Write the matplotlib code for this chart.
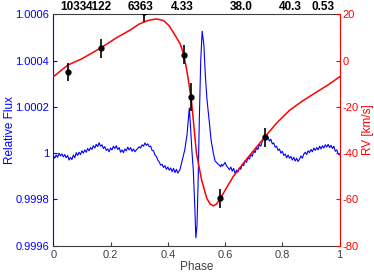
import matplotlib
matplotlib.use("Agg")
import matplotlib.pyplot as plt
import numpy as np

plt.rcParams['font.family'] = ['Liberation Sans', 'DejaVu Sans']
plt.rcParams['axes.unicode_minus'] = False

# blue flux curve: (phase, deviation from 1 in ppm)
flux_phase = [
    0.000, 0.005, 0.010, 0.015, 0.020, 0.025, 0.030, 0.035, 0.040, 0.045,
    0.050, 0.055, 0.060, 0.065, 0.070, 0.075, 0.080, 0.085, 0.090, 0.095,
    0.100, 0.105, 0.110, 0.115, 0.120, 0.125, 0.130, 0.135, 0.140, 0.145,
    0.150, 0.155, 0.160, 0.165, 0.170, 0.175, 0.180, 0.185, 0.190, 0.195,
    0.200, 0.205, 0.210, 0.215, 0.220, 0.225, 0.230, 0.235, 0.240, 0.245,
    0.250, 0.255, 0.260, 0.265, 0.270, 0.275, 0.280, 0.285, 0.290, 0.295,
    0.300, 0.305, 0.310, 0.315, 0.320, 0.325, 0.330, 0.335, 0.340, 0.345,
    0.350, 0.355, 0.360, 0.365, 0.370, 0.375, 0.380, 0.385, 0.390, 0.395,
    0.400, 0.405, 0.410, 0.415, 0.420, 0.425, 0.430, 0.435,
    0.442, 0.449, 0.459, 0.467, 0.472, 0.475, 0.479, 0.484, 0.489, 0.494,
    0.498, 0.502, 0.506, 0.510, 0.515, 0.520, 0.526, 0.531, 0.537, 0.545,
    0.551, 0.559, 0.565, 0.570, 0.575, 0.580, 0.584, 0.588, 0.591,
    0.595, 0.600, 0.605, 0.610, 0.615, 0.620, 0.625, 0.630, 0.635, 0.640,
    0.645, 0.650, 0.655, 0.660, 0.665, 0.670, 0.675, 0.680, 0.685, 0.690,
    0.695, 0.700, 0.705, 0.710, 0.715, 0.720, 0.725, 0.730, 0.735, 0.740,
    0.745, 0.750, 0.755, 0.760, 0.765, 0.770, 0.775, 0.780, 0.785, 0.790,
    0.795, 0.800, 0.805, 0.810, 0.815, 0.820, 0.825, 0.830, 0.835, 0.840,
    0.845, 0.850, 0.855, 0.860, 0.865, 0.870, 0.875, 0.880, 0.885, 0.890,
    0.895, 0.900, 0.905, 0.910, 0.915, 0.920, 0.925, 0.930, 0.935, 0.940,
    0.945, 0.950, 0.955, 0.960, 0.965, 0.970, 0.975, 0.980, 0.985, 0.990,
    0.995, 1.000,
]
flux_ppm = [
    -10, -22, -8, -18, 0, -12, -3, -16, -6, -20,
    -10, -30, -18, -28, -8, -20, 2, -10, 4, -6,
    10, 0, 14, 4, 20, 10, 24, 16, 32, 22,
    38, 28, 45, 30, 36, 20, 28, 12, 18, 6,
    22, 14, 30, 20, 32, 16, 24, 4, 14, 2,
    18, 10, 26, 14, 24, 8, 18, 6, 14, 20,
    28, 22, 36, 30, 44, 34, 40, 28, 30, 12,
    10, -8, -14, -30, -38, -52, -48, -62, -54, -70,
    -60, -74, -64, -80, -66, -84, -70, -86,
    -73, -38, 13, 78, 152, 195, 121, 13, -73, -224,
    -366, -311, -116, 143, 402, 527, 467, 337, 229, 134,
    57, 0, -34, -40, -47, -52, -59, -48, -56,
    -50, -40, -55, -62, -72, -60, -78, -66, -88, -74,
    -82, -64, -70, -48, -54, -32, -40, -18, -26, -6,
    -14, 10, 2, 24, 16, 38, 30, 52, 62, 72,
    60, 68, 52, 60, 40, 44, 26, 30, 12, 18,
    0, 8, -10, -4, -20, -8, -22, -14, -30, -18,
    -34, -22, -36, -26, -12, -22, -4, 4, -6, 10,
    2, 16, 6, 22, 12, 24, 14, 30, 18, 32,
    22, 36, 26, 38, 24, 34, 20, 30, 8, 14,
    -4, -8,
]

# red RV model curve
model_phase = [0.0, 0.05, 0.1, 0.165, 0.22, 0.27, 0.30, 0.33, 0.36, 0.385,
               0.405, 0.425, 0.442, 0.455, 0.466, 0.475, 0.483, 0.489, 0.5,
               0.518, 0.536, 0.548, 0.559, 0.57, 0.584, 0.605, 0.628, 0.66,
               0.687, 0.739, 0.78, 0.826, 0.87, 0.913, 0.96, 1.0]
model_rv = [-7, -2, 0.8, 5.4, 9.8, 13.3, 15.8, 17.3, 18, 17.3,
            15, 11, 7.5, 3, -4, -11, -18, -25.7, -40,
            -51.6, -59.5, -62, -62.8, -62, -59.5, -55, -50.2, -45,
            -40.8, -33, -27, -21.4, -17.5, -14.1, -10.5, -7]

# RV measurements
obs_phase = [0.051, 0.165, 0.317, 0.455, 0.482, 0.584, 0.739]
obs_rv = [-4.9, 5.3, 21.0, 2.6, -15.7, -59.5, -33.2]
obs_err = [4, 4, 4.5, 4, 6, 4, 4]

top_pos = [0.069, 0.160, 0.304, 0.449, 0.656, 0.829, 0.942]
top_labels = ['1033', '4122', '6363', '4.33', '38.0', '40.3', '0.53']

grey = '#404040'

fig = plt.figure(figsize=(3.74, 2.74), dpi=100)
ax = fig.add_axes([0.1425, 0.1033, 0.7655, 0.8445])
ax2 = ax.twinx()

flux = 1 + np.array(flux_ppm) * 1e-6
ax.plot(flux_phase, flux, color='blue', lw=0.8)
ax.set_xlim(0, 1)
ax.set_ylim(0.9996, 1.0006)
ax.set_yticks([0.9996, 0.9998, 1.0, 1.0002, 1.0004, 1.0006])
ax.set_yticklabels(['0.9996', '0.9998', '1', '1.0002', '1.0004', '1.0006'])
ax.set_xticks([0, 0.2, 0.4, 0.6, 0.8, 1])
ax.set_xticklabels(['0', '0.2', '0.4', '0.6', '0.8', '1'])
ax.tick_params(axis='y', colors='blue', direction='in', length=3, labelsize=8, pad=3)
ax.tick_params(axis='x', colors=grey, direction='in', length=3, labelsize=8, top=True, pad=3)
ax.set_ylabel('Relative Flux', color='blue', fontsize=8.5)
ax.yaxis.set_label_coords(-0.13, 0.5)
ax.set_xlabel('Phase', color=grey, fontsize=8.5, labelpad=1)
ax.spines['left'].set_color('blue')
ax.spines['right'].set_visible(False)
ax.spines['bottom'].set_color(grey)
ax.spines['top'].set_color(grey)

ax2.plot(model_phase, model_rv, color='red', lw=1.1)
ax2.errorbar(obs_phase, obs_rv, yerr=obs_err, fmt='o', color='black',
             ms=3.5, elinewidth=1.2, capsize=0)
ax2.set_ylim(-80, 20)
ax2.set_yticks([-80, -60, -40, -20, 0, 20])
ax2.tick_params(axis='y', colors='red', direction='in', length=3, labelsize=8, pad=2)
ax2.set_ylabel('RV [km/s]', color='red', fontsize=8.5)
ax2.yaxis.set_label_coords(1.078, 0.5)
ax2.spines['right'].set_color('red')
ax2.spines['left'].set_visible(False)
ax2.spines['top'].set_visible(False)
ax2.spines['bottom'].set_visible(False)

# labels above the plot
ax3 = ax.twiny()
ax3.set_xlim(0, 1)
ax3.set_xticks(top_pos)
ax3.set_xticklabels(top_labels, fontweight='bold', fontsize=8.5)
ax3.tick_params(axis='x', length=0, pad=1)
for s in ax3.spines.values():
    s.set_visible(False)

fig.savefig('out.png', dpi=100)
